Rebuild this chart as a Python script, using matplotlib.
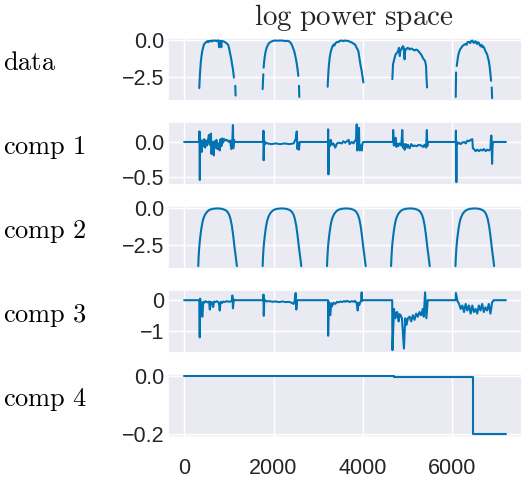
import numpy as np
import matplotlib
matplotlib.use("Agg")
import matplotlib.pyplot as plt
import seaborn as sns

nan = np.nan

# ---------------- data ----------------
row_labels = ["data", "comp 1", "comp 2", "comp 3", "comp 4"]
title_text = "log power space"

x_ticks = [0, 2000, 4000, 6000]
y_ticks = [[-2.5, 0.0], [-0.5, 0.0], [-2.5, 0.0], [-1, 0], [-0.2, 0.0]]

data_x = [340, 347, 354, 365, 376, 390, 406, 425, 443, 470, 502, 520, 540, 560, 576, 600, 620, 650, 680,
          700, 730, 750, 770, 783, 790, 810, 834, 840, 871, 908, 940, 982, 1000, 1019, 1040, 1056, 1075,
          1093, 1105, 1115, 1130, 1145, 1152, 1160,
          1757, 1765, 1772, 1776, 1779, 1790, 1801, 1820, 1846, 1875, 1905, 1950, 2016, 2080, 2164, 2220,
          2260, 2300, 2348, 2385, 2410, 2436, 2460, 2481, 2510, 2533, 2555, 2562, 2570, 2577, 2585,
          3211, 3219, 3234, 3256, 3275, 3293, 3320, 3345, 3360, 3381, 3418, 3450, 3480, 3529, 3560, 3603,
          3640, 3677, 3710, 3751, 3790, 3824, 3861, 3898, 3920, 3943, 3972, 3994, 4009, 4020,
          4658, 4673, 4700, 4730, 4760, 4785, 4806, 4825, 4835, 4858, 4880, 4895, 4910, 4932, 4945, 4969,
          5000, 5030, 5043, 5080, 5110, 5154, 5190, 5228, 5270, 5302, 5339, 5361, 5390, 5412, 5420, 5435,
          5445,
          6076, 6083, 6090, 6098, 6128, 6150, 6172, 6200, 6224, 6260, 6298, 6320, 6340, 6372, 6400, 6420,
          6446, 6465, 6483, 6500, 6520, 6540, 6556, 6575, 6593, 6610, 6630, 6650, 6667, 6690, 6704, 6741,
          6778, 6815, 6837, 6850, 6866, 6873, 6881, 6889]
data_y = [-3.22, -2.70, -2.29, -1.80, -1.39, -1.05, -0.73, -0.50, -0.28, -0.18, -0.10, -0.05, -0.12, -0.04,
          -0.06, -0.02, -0.08, 0.00, -0.03, -0.01, -0.05, 0.00, -0.02, -0.46, -0.02, -0.04, -0.46, -0.03,
          -0.06, -0.10, -0.18, -0.28, -0.45, -0.73, -1.05, -1.28, -1.65, -1.95, -2.25, -2.51, nan, -3.07,
          -3.73, nan,
          -3.29, -2.75, -2.29, nan, -1.84, -1.45, -1.17, -0.80, -0.50, -0.30, -0.17, -0.08, -0.01, -0.02,
          -0.01, -0.02, -0.05, -0.03, -0.06, -0.17, -0.30, -0.50, -0.70, -0.95, -1.39, -1.84, -2.40, nan,
          -3.07, -3.82, nan,
          -3.13, -2.60, -1.84, -1.17, -0.85, -0.62, -0.40, -0.28, -0.35, -0.22, -0.10, -0.12, -0.03, -0.01,
          -0.05, -0.01, -0.03, -0.04, -0.10, -0.14, -0.22, -0.28, -0.50, -0.73, -1.17, -1.62, -2.06, -2.51,
          -2.84, nan,
          -2.62, -1.62, -1.28, -0.95, -0.84, -0.73, -0.50, -1.06, -0.70, -0.61, -0.45, -0.39, -0.45, -1.28,
          -0.60, -0.61, -0.50, -0.55, -0.61, -0.55, -0.60, -0.68, -0.62, -0.68, -0.84, -0.95, -1.17, -1.28,
          -1.39, -1.73, -2.40, -3.18, nan,
          -3.82, -2.17, nan, -1.73, -1.06, -0.80, -0.61, -0.50, -0.39, -0.30, -0.24, -0.30, -0.12, -0.10,
          -0.18, -0.05, -0.01, -0.12, -0.17, -0.08, -0.06, -0.20, -0.24, -0.12, -0.17, -0.30, -0.39, -0.30,
          -0.46, -0.40, -0.46, -0.73, -0.95, -1.39, -1.84, -2.20, -2.73, nan, -3.18, -3.90]

comp1_x = [0, 340, 344, 352, 358, 375, 395, 410, 430, 450, 470, 490, 510, 530, 555, 575, 600, 613, 630,
           650, 664, 680, 700, 723, 745, 770, 797, 815, 834, 855, 871, 900, 930, 960, 1004, 1030, 1056,
           1080, 1093, 1100, 1115, 1130,
           1772, 1775, 1780, 1790, 1810, 1830, 1868, 1950, 2050, 2150, 2250, 2348, 2450, 2496, 2520, 2535,
           2550, 2570, 2585,
           3219, 3222, 3228, 3240, 3260, 3280, 3308, 3340, 3381, 3420, 3455, 3529, 3560, 3603, 3680, 3700,
           3751, 3790, 3824, 3850, 3861, 3870, 3884, 3898, 3910, 3925, 3950, 3972, 3990, 4009,
           4673, 4676, 4690, 4710, 4730, 4747, 4770, 4790, 4821, 4858, 4880, 4895, 4920, 4932, 4960, 4985,
           5006, 5043, 5080, 5120, 5154, 5200, 5250, 5302, 5350, 5376, 5412, 5430, 5440, 5449,
           6076, 6080, 6090, 6098, 6113, 6150, 6187, 6220, 6261, 6300, 6335, 6370, 6409, 6446, 6460, 6483,
           6520, 6556, 6600, 6630, 6680, 6704, 6750, 6778, 6820, 6852, 6866, 6876, 6889, 6900, 6911, 7198]
comp1_y = [0.0, 0.0, 0.15, -0.54, 0.05, -0.02, -0.14, 0.02, -0.06, 0.04, -0.08, 0.02, -0.05, 0.01, 0.10,
           -0.04, 0.12, -0.17, 0.00, -0.05, -0.19, 0.01, -0.08, 0.03, -0.10, -0.02, -0.12, 0.04, -0.06,
           0.05, -0.01, 0.04, 0.02, 0.03, 0.00, 0.02, -0.10, 0.04, 0.24, -0.09, 0.03, 0.0,
           0.0, 0.16, -0.26, 0.02, -0.03, -0.01, -0.02, -0.03, -0.02, -0.03, -0.02, -0.03, -0.02, 0.04,
           0.15, -0.10, -0.02, -0.11, 0.0,
           0.0, 0.18, -0.46, 0.02, -0.06, 0.03, -0.04, -0.02, -0.08, -0.02, -0.01, -0.02, 0.01, -0.01,
           0.03, -0.03, 0.00, -0.02, 0.02, 0.04, 0.25, -0.12, 0.02, -0.05, 0.20, -0.12, -0.05, -0.12,
           -0.02, 0.0,
           0.0, 0.17, -0.05, -0.03, 0.06, -0.07, -0.02, -0.06, -0.02, -0.05, 0.17, -0.08, -0.03, -0.11,
           -0.03, -0.08, -0.04, -0.09, -0.03, -0.06, -0.05, -0.06, -0.04, -0.05, -0.07, -0.04, -0.08, 0.17,
           -0.06, 0.0,
           0.0, 0.16, -0.57, 0.00, -0.03, -0.01, -0.03, -0.01, 0.00, -0.02, 0.02, 0.01, 0.03, 0.04, -0.09,
           -0.10, -0.13, -0.11, -0.13, -0.11, -0.12, -0.10, -0.13, -0.11, -0.12, -0.10, 0.09, 0.09, -0.31,
           -0.05, 0.0, 0.0]

comp2_x = [317, 325, 337, 352, 369, 387, 413, 442, 477, 517, 567, 637, 747, 847, 917, 967, 1007, 1037,
           1067, 1097, 1127, 1157, 1181, 1190,
           1757, 1765, 1777, 1792, 1809, 1827, 1853, 1882, 1917, 1957, 2007, 2077, 2187, 2287, 2357, 2407,
           2447, 2477, 2507, 2537, 2567, 2597, 2621, 2630,
           3197, 3205, 3217, 3232, 3249, 3267, 3293, 3322, 3357, 3397, 3447, 3517, 3627, 3727, 3797, 3847,
           3887, 3917, 3947, 3977, 4007, 4037, 4061, 4070,
           4630, 4638, 4650, 4665, 4682, 4700, 4726, 4755, 4790, 4830, 4880, 4950, 5060, 5160, 5230, 5280,
           5320, 5350, 5380, 5410, 5440, 5470, 5494, 5500,
           6070, 6078, 6090, 6105, 6122, 6140, 6166, 6195, 6230, 6270, 6320, 6390, 6500, 6600, 6670, 6720,
           6760, 6790, 6820, 6850, 6880, 6910, 6934]
comp2_y = [-3.9, -3.3, -2.7, -2.2, -1.75, -1.35, -0.9, -0.6, -0.38, -0.22, -0.1, -0.03, 0.0, -0.03, -0.1,
           -0.22, -0.42, -0.7, -1.15, -1.8, -2.6, -3.3, -3.9, nan,
           -3.9, -3.3, -2.7, -2.2, -1.75, -1.35, -0.9, -0.6, -0.38, -0.22, -0.1, -0.03, 0.0, -0.03, -0.1,
           -0.22, -0.42, -0.7, -1.15, -1.8, -2.6, -3.3, -3.9, nan,
           -3.9, -3.3, -2.7, -2.2, -1.75, -1.35, -0.9, -0.6, -0.38, -0.22, -0.1, -0.03, 0.0, -0.03, -0.1,
           -0.22, -0.42, -0.7, -1.15, -1.8, -2.6, -3.3, -3.9, nan,
           -3.9, -3.3, -2.7, -2.2, -1.75, -1.35, -0.9, -0.6, -0.38, -0.22, -0.1, -0.03, 0.0, -0.03, -0.1,
           -0.22, -0.42, -0.7, -1.15, -1.8, -2.6, -3.3, -3.9, nan,
           -3.9, -3.3, -2.7, -2.2, -1.75, -1.35, -0.9, -0.6, -0.38, -0.22, -0.1, -0.03, 0.0, -0.03, -0.1,
           -0.22, -0.42, -0.7, -1.15, -1.8, -2.6, -3.3, -3.9]

comp3_x = [0, 340, 350, 358, 375, 391, 410, 428, 450, 480, 520, 560, 576, 600, 630, 650, 670, 700, 740,
           780, 797, 815, 850, 871, 910, 950, 1000, 1040, 1070, 1080, 1093, 1110, 1130,
           1772, 1775, 1782, 1794, 1816, 1850, 1900, 1979, 2050, 2127, 2200, 2274, 2348, 2400, 2450, 2470,
           2496, 2510, 2525, 2533,
           3219, 3222, 3234, 3250, 3271, 3290, 3308, 3340, 3381, 3420, 3455, 3500, 3529, 3580, 3603, 3650,
           3700, 3751, 3800, 3824, 3861, 3884, 3898, 3920, 3940, 3960, 3972, 3980, 3990,
           4655, 4660, 4695, 4725, 4750, 4769, 4799, 4820, 4843, 4873, 4917, 4947, 4976, 5006, 5043, 5080,
           5117, 5154, 5191, 5228, 5265, 5302, 5339, 5361, 5390, 5420, 5449,
           6076, 6080, 6113, 6150, 6187, 6224, 6261, 6298, 6335, 6372, 6409, 6446, 6483, 6520, 6556, 6593,
           6630, 6667, 6704, 6741, 6778, 6815, 6852, 6889, 6926, 7198]
comp3_y = [0.0, 0.0, -1.19, 0.05, -0.10, -0.45, -0.53, -0.05, -0.08, -0.03, -0.07, -0.04, -0.30, -0.05,
           -0.08, -0.22, -0.04, -0.06, -0.03, -0.10, -0.33, -0.05, -0.09, -0.04, -0.06, -0.03, -0.05, -0.04,
           -0.02, 0.15, -0.26, 0.02, 0.0,
           0.0, 0.18, -0.50, 0.02, -0.01, -0.04, -0.03, -0.05, -0.04, -0.06, -0.04, -0.06, -0.05, -0.08,
           -0.12, -0.04, 0.23, -0.30, -0.05, 0.0,
           0.0, -1.14, -0.05, -0.40, -0.48, -0.10, -0.20, -0.08, -0.12, -0.05, -0.07, -0.04, -0.06, -0.03,
           -0.05, -0.02, -0.06, -0.03, -0.05, -0.02, -0.10, -0.33, -0.08, -0.15, -0.06, -0.03, 0.25, -0.02,
           0.0,
           0.0, -1.60, -0.28, -0.58, -0.40, -0.38, -0.68, -0.45, -0.48, -0.58, -1.55, -0.58, -0.79, -0.58,
           -0.53, -0.68, -0.48, -0.63, -0.43, -0.53, -0.38, -0.48, -0.28, -0.53, 0.25, -0.58, 0.0,
           0.0, 0.23, -0.02, -0.12, -0.28, -0.17, -0.38, -0.12, -0.33, -0.17, -0.43, -0.17, -0.38, -0.28,
           -0.43, -0.17, -0.33, -0.12, -0.38, -0.23, -0.33, -0.12, -0.43, -0.07, 0.0, 0.0]

comp4_x = [0, 4695, 4695, 6467, 6467, 7198]
comp4_y = [0.0, 0.0, -0.003, -0.003, -0.2, -0.2]

series = [(data_x, data_y), (comp1_x, comp1_y), (comp2_x, comp2_y), (comp3_x, comp3_y), (comp4_x, comp4_y)]

# ---------------- style ----------------
sns.set_theme(style="darkgrid")
plt.rcParams["font.family"] = ["Liberation Sans", "DejaVu Sans"]
plt.rcParams["mathtext.fontset"] = "cm"

line_color = "#0173b2"

fig, axes = plt.subplots(5, 1, sharex=True, figsize=(5.24, 4.79), dpi=100)
fig.subplots_adjust(left=168 / 524, right=522 / 524, top=1 - 37.5 / 479, bottom=1 - 437 / 479,
                    hspace=0.323)

for ax, (xs, ys), lab, yt in zip(axes, series, row_labels, y_ticks):
    ax.plot(xs, ys, color=line_color, lw=1.5)
    ax.set_yticks(yt)
    ax.tick_params(axis="both", labelsize=15.5, colors=".15", length=0)
    ax.tick_params(axis="y", pad=2.5)
    ax.tick_params(axis="x", pad=15)
    mlab = r"$\mathrm{" + lab.replace(" ", r"\ ") + "}$"
    ax.set_ylabel(mlab, rotation=0, fontsize=19, ha="left", va="baseline", color="black")
    ax.yaxis.set_label_coords(-0.466, 0.49)

axes[-1].set_xticks(x_ticks)
axes[0].set_title(r"$\mathrm{" + title_text.replace(" ", r"\ ") + "}$", fontsize=21, x=0.525, pad=9)

fig.savefig("out.png", dpi=100)
